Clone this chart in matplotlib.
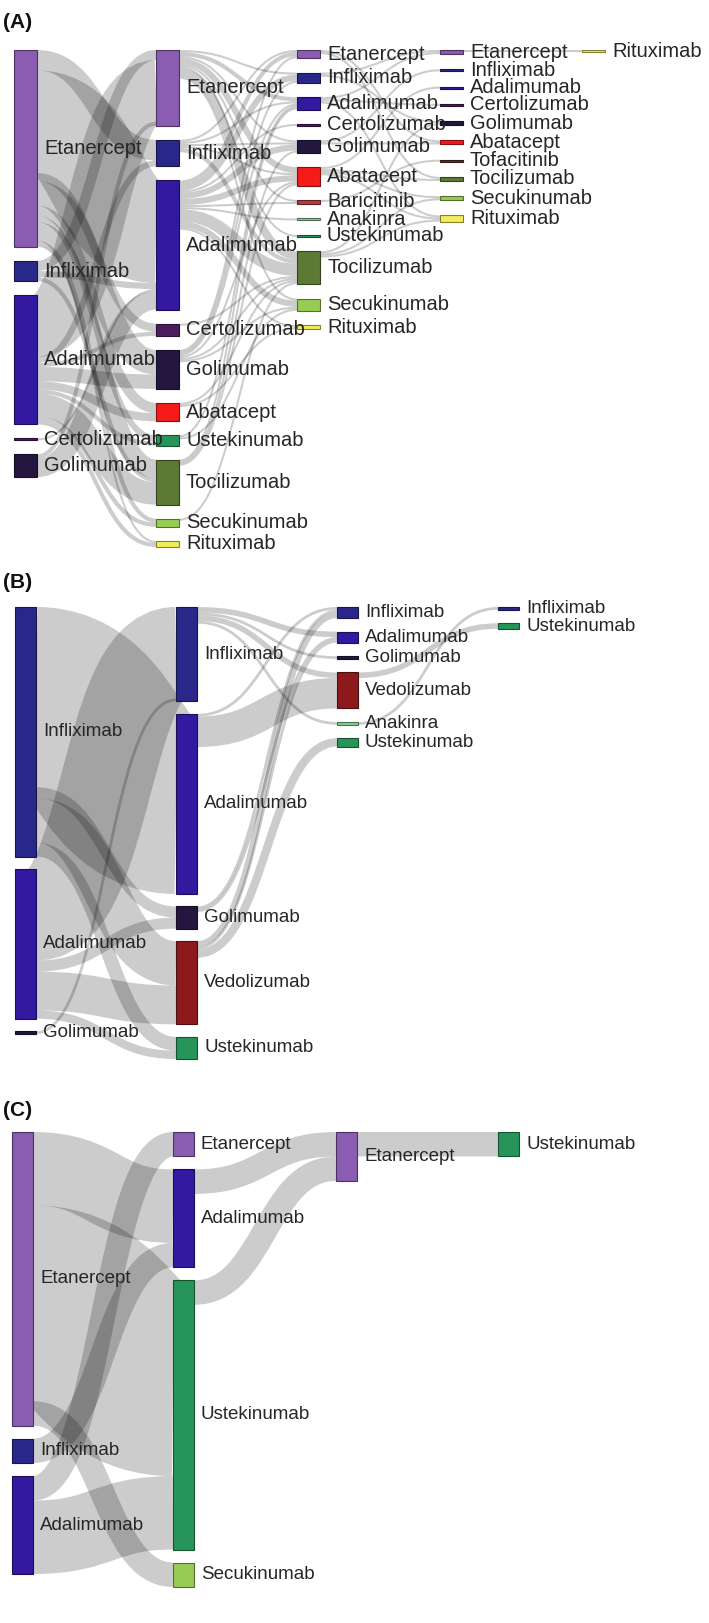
import matplotlib.pyplot as plt
from matplotlib.path import Path
from matplotlib.patches import PathPatch, Rectangle
import matplotlib.colors as mcolors

# Daten
#======

drug_colors = {
    "Etanercept": "#8a5cb2", "Infliximab": "#29288a", "Adalimumab": "#3219a0",
    "Certolizumab": "#4b1d5e", "Golimumab": "#24173f", "Abatacept": "#f51b1b",
    "Baricitinib": "#b03c3c", "Anakinra": "#86cf95", "Ustekinumab": "#27955a",
    "Tocilizumab": "#5d7a34", "Secukinumab": "#97cc54", "Rituximab": "#f0ec5a",
    "Tofacitinib": "#5c3327", "Vedolizumab": "#8c1a1c",
}

# (A) - Reihenfolge der Knoten je Therapielinie
a_columns = [
    ["Etanercept", "Infliximab", "Adalimumab", "Certolizumab", "Golimumab"],
    ["Etanercept", "Infliximab", "Adalimumab", "Certolizumab", "Golimumab",
     "Abatacept", "Ustekinumab", "Tocilizumab", "Secukinumab", "Rituximab"],
    ["Etanercept", "Infliximab", "Adalimumab", "Certolizumab", "Golimumab",
     "Abatacept", "Baricitinib", "Anakinra", "Ustekinumab", "Tocilizumab",
     "Secukinumab", "Rituximab"],
    ["Etanercept", "Infliximab", "Adalimumab", "Certolizumab", "Golimumab",
     "Abatacept", "Tofacitinib", "Tocilizumab", "Secukinumab", "Rituximab"],
    ["Rituximab"],
]
# (Linie, von, nach, Anzahl)
a_links = [
    (0, "Etanercept", "Infliximab", 10), (0, "Etanercept", "Adalimumab", 50),
    (0, "Etanercept", "Certolizumab", 4), (0, "Etanercept", "Golimumab", 12),
    (0, "Etanercept", "Abatacept", 5), (0, "Etanercept", "Ustekinumab", 3),
    (0, "Etanercept", "Tocilizumab", 9), (0, "Etanercept", "Secukinumab", 2),
    (0, "Etanercept", "Rituximab", 1),
    (0, "Infliximab", "Etanercept", 5), (0, "Infliximab", "Adalimumab", 3),
    (0, "Infliximab", "Tocilizumab", 2),
    (0, "Adalimumab", "Etanercept", 30), (0, "Adalimumab", "Infliximab", 3),
    (0, "Adalimumab", "Certolizumab", 2), (0, "Adalimumab", "Golimumab", 7),
    (0, "Adalimumab", "Abatacept", 4), (0, "Adalimumab", "Ustekinumab", 2),
    (0, "Adalimumab", "Tocilizumab", 11), (0, "Adalimumab", "Secukinumab", 2),
    (0, "Adalimumab", "Rituximab", 2),
    (0, "Certolizumab", "Adalimumab", 1),
    (0, "Golimumab", "Etanercept", 2), (0, "Golimumab", "Adalimumab", 9),
    (1, "Etanercept", "Infliximab", 1), (1, "Etanercept", "Adalimumab", 2),
    (1, "Etanercept", "Golimumab", 1), (1, "Etanercept", "Abatacept", 3),
    (1, "Etanercept", "Baricitinib", 1), (1, "Etanercept", "Ustekinumab", 1),
    (1, "Etanercept", "Tocilizumab", 4), (1, "Etanercept", "Secukinumab", 1),
    (1, "Infliximab", "Etanercept", 1), (1, "Infliximab", "Adalimumab", 1),
    (1, "Infliximab", "Golimumab", 1), (1, "Infliximab", "Abatacept", 1),
    (1, "Infliximab", "Tocilizumab", 2),
    (1, "Adalimumab", "Etanercept", 2), (1, "Adalimumab", "Infliximab", 3),
    (1, "Adalimumab", "Certolizumab", 1), (1, "Adalimumab", "Golimumab", 3),
    (1, "Adalimumab", "Abatacept", 3), (1, "Adalimumab", "Baricitinib", 1),
    (1, "Adalimumab", "Anakinra", 1), (1, "Adalimumab", "Tocilizumab", 6),
    (1, "Adalimumab", "Secukinumab", 3), (1, "Adalimumab", "Rituximab", 1),
    (1, "Certolizumab", "Tocilizumab", 1),
    (1, "Golimumab", "Etanercept", 1), (1, "Golimumab", "Infliximab", 1),
    (1, "Golimumab", "Adalimumab", 1), (1, "Golimumab", "Abatacept", 1),
    (1, "Golimumab", "Tocilizumab", 1), (1, "Golimumab", "Secukinumab", 1),
    (1, "Abatacept", "Tocilizumab", 1), (1, "Abatacept", "Rituximab", 1),
    (1, "Ustekinumab", "Adalimumab", 1), (1, "Ustekinumab", "Secukinumab", 1),
    (1, "Tocilizumab", "Adalimumab", 1), (1, "Tocilizumab", "Golimumab", 1),
    (1, "Tocilizumab", "Abatacept", 1),
    (1, "Secukinumab", "Tocilizumab", 1),
    (2, "Etanercept", "Abatacept", 1), (2, "Etanercept", "Tocilizumab", 1),
    (2, "Infliximab", "Etanercept", 1), (2, "Infliximab", "Golimumab", 1),
    (2, "Adalimumab", "Etanercept", 1), (2, "Adalimumab", "Certolizumab", 1),
    (2, "Adalimumab", "Rituximab", 1),
    (2, "Golimumab", "Infliximab", 1), (2, "Golimumab", "Abatacept", 1),
    (2, "Abatacept", "Adalimumab", 1), (2, "Abatacept", "Tocilizumab", 1),
    (2, "Abatacept", "Secukinumab", 1), (2, "Abatacept", "Rituximab", 1),
    (2, "Baricitinib", "Tofacitinib", 1),
    (2, "Tocilizumab", "Golimumab", 1), (2, "Tocilizumab", "Secukinumab", 1),
    (2, "Tocilizumab", "Rituximab", 1),
    (3, "Etanercept", "Rituximab", 1),
]

# (B)
b_columns = [
    ["Infliximab", "Adalimumab", "Golimumab"],
    ["Infliximab", "Adalimumab", "Golimumab", "Vedolizumab", "Ustekinumab"],
    ["Infliximab", "Adalimumab", "Golimumab", "Vedolizumab", "Anakinra", "Ustekinumab"],
    ["Infliximab", "Ustekinumab"],
]
b_links = [
    (0, "Infliximab", "Adalimumab", 65), (0, "Infliximab", "Golimumab", 4),
    (0, "Infliximab", "Vedolizumab", 16), (0, "Infliximab", "Ustekinumab", 5),
    (0, "Adalimumab", "Infliximab", 33), (0, "Adalimumab", "Golimumab", 4),
    (0, "Adalimumab", "Vedolizumab", 14), (0, "Adalimumab", "Ustekinumab", 3),
    (0, "Golimumab", "Infliximab", 1),
    (1, "Infliximab", "Adalimumab", 2), (1, "Infliximab", "Golimumab", 1),
    (1, "Infliximab", "Vedolizumab", 2), (1, "Infliximab", "Anakinra", 1),
    (1, "Adalimumab", "Infliximab", 1), (1, "Adalimumab", "Vedolizumab", 11),
    (1, "Golimumab", "Infliximab", 1), (1, "Golimumab", "Adalimumab", 1),
    (1, "Vedolizumab", "Infliximab", 2), (1, "Vedolizumab", "Adalimumab", 1),
    (1, "Vedolizumab", "Ustekinumab", 3),
    (2, "Vedolizumab", "Ustekinumab", 2), (2, "Anakinra", "Infliximab", 1),
]

# (C)
c_columns = [
    ["Etanercept", "Infliximab", "Adalimumab"],
    ["Etanercept", "Adalimumab", "Ustekinumab", "Secukinumab"],
    ["Etanercept"],
    ["Ustekinumab"],
]
c_links = [
    (0, "Etanercept", "Adalimumab", 3), (0, "Etanercept", "Ustekinumab", 8),
    (0, "Etanercept", "Secukinumab", 1), (0, "Infliximab", "Adalimumab", 1),
    (0, "Adalimumab", "Etanercept", 1), (0, "Adalimumab", "Ustekinumab", 3),
    (1, "Adalimumab", "Etanercept", 1), (1, "Ustekinumab", "Etanercept", 1),
    (2, "Etanercept", "Ustekinumab", 1),
]

#====================================================================#
#                          SANKEY ZEICHNEN                           #
#====================================================================#

plt.rcParams['font.family'] = ['Liberation Sans', 'DejaVu Sans']

W, H = 709, 1623
fig = plt.figure(figsize=(W / 100, H / 100), dpi=100)
ax = fig.add_axes([0, 0, 1, 1])
ax.set_xlim(0, W)
ax.set_ylim(H, 0)
ax.axis('off')


def darker(c, f=0.55):
    r, g, b = mcolors.to_rgb(c)
    return (r * f, g * f, b * f)


def sankey(columns, links, xs, top, bottom, pads, nw, fs):
    # Knotenwerte = max(Zufluss, Abfluss)
    vin, vout = {}, {}
    for st, s, t, v in links:
        vout[(st, s)] = vout.get((st, s), 0) + v
        vin[(st + 1, t)] = vin.get((st + 1, t), 0) + v
    val = {}
    for c, names in enumerate(columns):
        for n in names:
            val[(c, n)] = max(vin.get((c, n), 0), vout.get((c, n), 0))

    # Skalierung wie d3-sankey (engste Spalte bestimmt ky)
    ky = min((bottom - top - (len(names) - 1) * pads[c]) / sum(val[(c, n)] for n in names)
             for c, names in enumerate(columns))

    ytop = {}
    for c, names in enumerate(columns):
        y = top
        for n in names:
            ytop[(c, n)] = y
            y += val[(c, n)] * ky + pads[c]

    # Link-Offsets an Quelle und Ziel
    sy, ty = {}, {}
    for node in val:
        outs = [i for i, l in enumerate(links) if (l[0], l[1]) == node]
        outs.sort(key=lambda i: ytop[(links[i][0] + 1, links[i][2])])
        y = ytop[node]
        for i in outs:
            sy[i] = y
            y += links[i][3] * ky
        ins = [i for i, l in enumerate(links) if (l[0] + 1, l[2]) == node]
        ins.sort(key=lambda i: ytop[(links[i][0], links[i][1])])
        y = ytop[node]
        for i in ins:
            ty[i] = y
            y += links[i][3] * ky

    for i, (st, s, t, v) in enumerate(links):
        w = v * ky
        x0 = xs[st] + nw
        x1 = xs[st + 1]
        y0 = sy[i] + w / 2
        y1 = ty[i] + w / 2
        xm = (x0 + x1) / 2
        p = Path([(x0, y0), (xm, y0), (xm, y1), (x1, y1)],
                 [Path.MOVETO, Path.CURVE4, Path.CURVE4, Path.CURVE4])
        ax.add_patch(PathPatch(p, fill=False, edgecolor=(0, 0, 0, 0.2),
                               lw=w * 0.72, capstyle='butt', zorder=1))

    for (c, n), v in val.items():
        h = v * ky
        col = drug_colors[n]
        ax.add_patch(Rectangle((xs[c], ytop[(c, n)]), nw, h, facecolor=col,
                               edgecolor=darker(col), lw=0.8, zorder=2))
        ax.text(xs[c] + nw + 7, ytop[(c, n)] + h / 2, n, fontsize=fs,
                va='center', ha='left', color='#262626', zorder=3)


sankey(a_columns, a_links, [14, 156, 297, 440, 582], 50, 547,
       [14, 14, 14.4, 15.2, 14], 23, 14.5)
sankey(b_columns, b_links, [15, 176, 337, 498], 607, 1059,
       [12.5, 12.5, 13.5, 13.5], 21, 13.5)
sankey(c_columns, c_links, [12, 173, 336, 498], 1132, 1587,
       [13, 13, 13, 13], 21, 13.5)

# Panel-Beschriftungen
for lab, y in [("(A)", 22), ("(B)", 582), ("(C)", 1111)]:
    ax.text(3, y, lab, fontsize=15, fontweight='bold', va='center', ha='left', color='#111')

fig.savefig('out.png', dpi=100)
